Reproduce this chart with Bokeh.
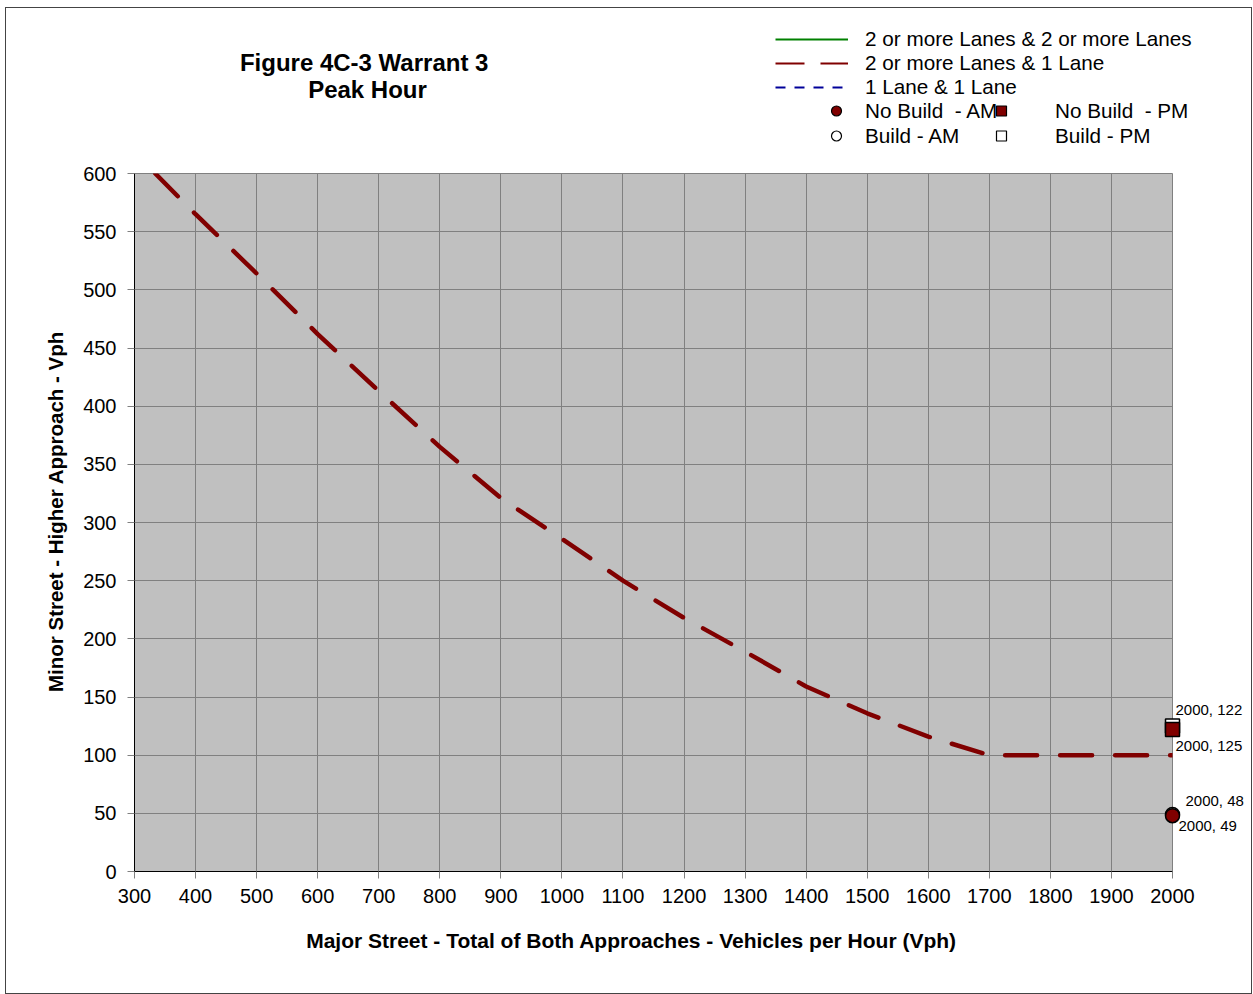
import math
from bokeh.plotting import figure
from bokeh.layouts import column
from bokeh.models import Range1d, FixedTicker, Legend, LegendItem, Label
from bokeh.embed import file_html
from bokeh.resources import INLINE

NAN = float("nan")

# ---- data ----
major_vph = [334, 400, 500, 600, 700, 800, 900, 1000, 1100, 1200, 1300, 1400, 1500, 1600, 1700, 2000]
minor_vph = [600, 565, 514, 462, 413, 365, 321, 286, 250, 218, 189, 159, 136, 116, 100, 100]

x_ticks = list(range(300, 2001, 100))
y_ticks = list(range(0, 601, 50))

line_names = ["2 or more Lanes & 2 or more Lanes", "2 or more Lanes & 1 Lane", "1 Lane & 1 Lane"]

build_am_x, build_am_y = [2000], [49]
nobuild_am_x, nobuild_am_y = [2000], [48]
build_pm_x, build_pm_y = [2000], [125]
nobuild_pm_x, nobuild_pm_y = [2000], [122]

title_lines = ["Figure 4C-3  Warrant 3", "Peak Hour"]
x_label = "Major Street - Total of Both Approaches - Vehicles per Hour (Vph)"
y_label = "Minor Street - Higher Approach - Vph"

FONT = "Liberation Sans"
RED = "#800000"

W, H = 1245, 985
MB_L, MB_R, MB_T, MB_B = 128, 79, 165, 122
X0, X1, Y0, Y1 = 300, 2000, 0, 600

p = figure(width=W, height=H, x_range=Range1d(X0, X1), y_range=Range1d(Y0, Y1),
           output_backend="svg", toolbar_location=None,
           min_border_left=MB_L, min_border_right=MB_R, min_border_top=MB_T, min_border_bottom=MB_B,
           background_fill_color="#C0C0C0", border_fill_color="white",
           outline_line_color="#808080", outline_line_width=1)

p.xaxis.ticker = FixedTicker(ticks=x_ticks)
p.yaxis.ticker = FixedTicker(ticks=y_ticks)
for ax in (p.xaxis, p.yaxis):
    ax.axis_line_color = "black"
    ax.axis_line_width = 1
    ax.major_tick_line_color = "#808080"
    ax.major_tick_out = 7
    ax.major_tick_in = 0
    ax.minor_tick_line_color = None
    ax.major_label_text_font = FONT
    ax.major_label_text_font_size = "20px"
    ax.major_label_text_color = "black"
p.xaxis.major_label_standoff = 10
p.yaxis.major_label_standoff = 11

p.grid.grid_line_color = "#808080"
p.grid.grid_line_width = 1
p.grid.grid_line_alpha = 1

# main curve
p.line(major_vph, minor_vph, line_color=RED, line_width=4.5, line_dash="32 23", line_cap="round")

# ---- transparent overlay canvas (same data scale, unclipped up to the page edge) ----
frame_w = W - MB_L - MB_R
frame_h = H - MB_T - MB_B
ux = (X1 - X0) / frame_w
uy = (Y1 - Y0) / frame_h
o = figure(width=W, height=H,
           x_range=Range1d(X0 - MB_L * ux, X1 + MB_R * ux),
           y_range=Range1d(Y0 - MB_B * uy, Y1 + MB_T * uy),
           output_backend="svg", toolbar_location=None, min_border=0,
           x_axis_location=None, y_axis_location=None,
           background_fill_alpha=0, border_fill_alpha=0, outline_line_color=None)
o.frame_align = False
o.grid.visible = False
o.styles = {"position": "absolute", "left": "0px", "top": "0px"}

# points
MK = dict(size=14, line_color="black", line_width=1.5)
o.scatter(build_am_x, build_am_y, marker="circle", fill_color="white", **MK)
o.scatter(build_pm_x, build_pm_y, marker="square", fill_color="white", **MK)
o.scatter(nobuild_am_x, nobuild_am_y, marker="circle", fill_color=RED, **MK)
o.scatter(nobuild_pm_x, nobuild_pm_y, marker="square", fill_color=RED, **MK)

# point labels (text from data, placed beside the points)
pt_specs = [
    (nobuild_pm_x[0], nobuild_pm_y[0], 3, 20),
    (build_pm_x[0], build_pm_y[0], 3, -19),
    (nobuild_am_x[0], nobuild_am_y[0], 13, 15),
    (build_am_x[0], build_am_y[0], 6, -11),
]
for x, y, dx, dy in pt_specs:
    o.add_layout(Label(x=x, y=y, x_offset=dx, y_offset=dy, text=f"{x}, {y}",
                       text_font=FONT, text_font_size="15px", text_color="black",
                       text_baseline="middle", text_align="left"))

# title
for i, t in enumerate(title_lines):
    o.add_layout(Label(x=361, y=931 - 27 * i, x_units="screen", y_units="screen", text=t,
                       text_font=FONT, text_font_size="24px", text_font_style="bold",
                       text_color="black", text_align="center", text_baseline="middle"))

# axis titles
o.add_layout(Label(x=625, y=53, x_units="screen", y_units="screen", text=x_label,
                   text_font=FONT, text_font_size="21px", text_font_style="bold",
                   text_color="black", text_align="center", text_baseline="middle"))
o.add_layout(Label(x=49, y=482, x_units="screen", y_units="screen", text=y_label, angle=math.pi / 2,
                   text_font=FONT, text_font_size="20.5px", text_font_style="bold",
                   text_color="black", text_align="center", text_baseline="middle"))

# legend swatch renderers (no visible data)
g1 = o.line([NAN], [NAN], line_color="#008000", line_width=2)
g2 = o.line([NAN], [NAN], line_color=RED, line_width=2, line_dash="29 16")
g3 = o.line([NAN], [NAN], line_color="#000099", line_width=2, line_dash="10 9")
l_nam = o.scatter([NAN], [NAN], marker="circle", fill_color=RED, line_color="black", line_width=1.2)
l_bam = o.scatter([NAN], [NAN], marker="circle", fill_color="white", line_color="black", line_width=1.2)
l_npm = o.scatter([NAN], [NAN], marker="square", fill_color=RED, line_color="black", line_width=1.2)
l_bpm = o.scatter([NAN], [NAN], marker="square", fill_color="white", line_color="black", line_width=1.2)


def style_legend(lg):
    lg.background_fill_alpha = 0
    lg.border_line_alpha = 0
    lg.padding = 0
    lg.margin = 0
    lg.spacing = 0
    lg.label_text_font = FONT
    lg.label_text_font_size = "20.7px"
    lg.label_text_color = "black"
    lg.label_text_baseline = "middle"


L1 = Legend(items=[LegendItem(label=line_names[0], renderers=[g1]),
                   LegendItem(label=line_names[1], renderers=[g2]),
                   LegendItem(label=line_names[2], renderers=[g3])],
            location=(769, 894))
style_legend(L1)
L1.glyph_width = 73
L1.glyph_height = 24
L1.label_height = 24
L1.label_standoff = 17
o.add_layout(L1)

L2 = Legend(items=[LegendItem(label="No Build  - AM", renderers=[l_nam]),
                   LegendItem(label="Build - AM", renderers=[l_bam])],
            location=(815, 845))
style_legend(L2)
L2.glyph_width = 30
L2.glyph_height = 25
L2.label_height = 25
L2.label_standoff = 14
o.add_layout(L2)

L3 = Legend(items=[LegendItem(label="No Build  - PM", renderers=[l_npm]),
                   LegendItem(label="Build - PM", renderers=[l_bpm])],
            location=(980, 845))
style_legend(L3)
L3.glyph_width = 30
L3.glyph_height = 25
L3.label_height = 25
L3.label_standoff = 39
o.add_layout(L3)

layout = column(p, o)
layout.styles = {"border": "1px solid #444444", "margin-left": "5px", "margin-top": "7px",
                 "position": "relative"}

open("out.html", "w").write(file_html(layout, INLINE))
